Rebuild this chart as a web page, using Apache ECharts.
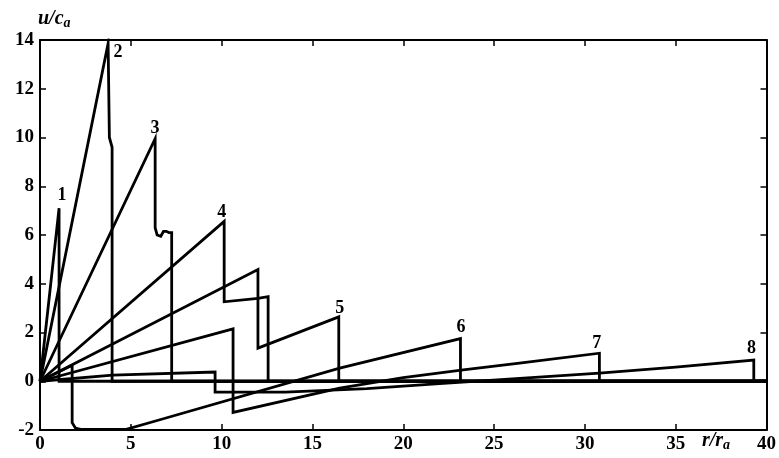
<!DOCTYPE html>
<html><head><meta charset="utf-8">
<script src="https://cdn.jsdelivr.net/npm/echarts@6/dist/echarts.min.js"></script>
<style>html,body{margin:0;padding:0;background:#fff}#c{width:779px;height:458px}</style>
</head><body><div id="c"></div>
<script>
// ---- data (r/r_a, u/c_a) ----
const curve1 = [[0,0],[1.05,7.1],[1.05,0],[40,0]];
const curve2 = [[0,0],[3.75,13.86],[3.82,10.0],[3.97,9.6],[3.97,0],[40,0]];
const curve3 = [[0,0],[6.34,9.95],[6.34,6.3],[6.45,6.0],[6.65,5.95],[6.8,6.15],[6.95,6.15],[7.1,6.1],[7.25,6.1],[7.25,0],[40,0]];
const curve4 = [[0,0],[10.14,6.56],[10.14,3.26],[12.0,3.4],[12.56,3.47],[12.56,0],[40,0]];
const curve5 = [[0,0],[12.0,4.58],[12.0,1.36],[16.45,2.64],[16.45,0],[40,0]];
const curve6 = [[0,0],[1.77,0.66],[1.77,-1.7],[1.95,-1.92],[2.3,-1.98],[4.7,-1.98],[6.6,-1.58],[16.5,0.54],[23.15,1.75],[23.15,0],[40,0]];
const curve7 = [[0,0],[10.63,2.15],[10.63,-1.28],[16.5,-0.28],[20,0.15],[23.3,0.47],[26.4,0.74],[30.8,1.15],[30.8,0],[40,0]];
const curve8 = [[0,0],[4,0.25],[9.64,0.38],[9.64,-0.45],[13.5,-0.45],[18,-0.3],[22,-0.1],[26,0.1],[30.8,0.33],[35,0.58],[39.3,0.87],[39.3,0],[40,0]];
const curveNames = ['1','2','3','4','5','6','7','8'];
const curveNamePos = [[1.21,7.64],[4.29,13.5],[6.33,10.39],[10.01,6.94],[16.5,2.99],[23.18,2.22],[30.65,1.57],[39.18,1.33]];
const xMin = 0, xMax = 40, xStep = 5;
const yMin = -2, yMax = 14, yStep = 2;

const chart = echarts.init(document.getElementById('c'), null, {renderer:'canvas'});
const font = '"Liberation Serif","Times New Roman",serif';
const curves = [curve1,curve2,curve3,curve4,curve5,curve6,curve7,curve8];
const series = curves.map((d,i)=>({
  type:'line', name:'c'+(i+1), data:d, symbol:'none', showSymbol:false,
  lineStyle:{color:'#000', width:2.8, join:'miter'}, animation:false, z:3
}));
series.push({
  type:'scatter', data: curveNamePos.map((p,i)=>({value:p, name:curveNames[i]})),
  symbolSize:0, itemStyle:{color:'#000', opacity:1}, silent:true, animation:false,
  label:{show:true, position:'inside', formatter:'{b}', color:'#000', opacity:1, fontFamily:font, fontWeight:'bold', fontSize:18}
});
const axisLine = {show:true, onZero:false, lineStyle:{color:'#000', width:2}};
const tick = {show:true, inside:true, length:6, lineStyle:{color:'#000', width:1.5}};
const lbl = {color:'#000', fontFamily:font, fontWeight:'bold', fontSize:19};
chart.setOption({
  animation:false,
  backgroundColor:'#fff',
  grid:{left:40, right:12, top:40, bottom:28, containLabel:false},
  xAxis:[
    {type:'value', min:xMin, max:xMax, interval:xStep, position:'bottom', axisLine, axisTick:tick,
     axisLabel:Object.assign({margin:5}, lbl), splitLine:{show:false}},
    {type:'value', min:xMin, max:xMax, interval:xStep, position:'top', axisLine, axisTick:tick,
     axisLabel:{show:false}, splitLine:{show:false}}
  ],
  yAxis:[
    {type:'value', min:yMin, max:yMax, interval:yStep, position:'left', axisLine, axisTick:tick,
     axisLabel:Object.assign({margin:6}, lbl), splitLine:{show:false}},
    {type:'value', min:yMin, max:yMax, interval:yStep, position:'right', axisLine, axisTick:tick,
     axisLabel:{show:false}, splitLine:{show:false}}
  ],
  graphic:[
    {type:'text', left:38, top:9, style:{text:'{i|u/c}{s|a}', rich:{
      i:{fontFamily:font, fontStyle:'italic', fontWeight:'bold', fontSize:20, fill:'#000'},
      s:{fontFamily:font, fontStyle:'italic', fontWeight:'bold', fontSize:14, fill:'#000', padding:[8,0,0,0]}}}},
    {type:'text', left:702, top:431, style:{text:'{i|r/r}{s|a}', rich:{
      i:{fontFamily:font, fontStyle:'italic', fontWeight:'bold', fontSize:20, fill:'#000'},
      s:{fontFamily:font, fontStyle:'italic', fontWeight:'bold', fontSize:14, fill:'#000', padding:[8,0,0,0]}}}}
  ],
  series
});
</script></body></html>
